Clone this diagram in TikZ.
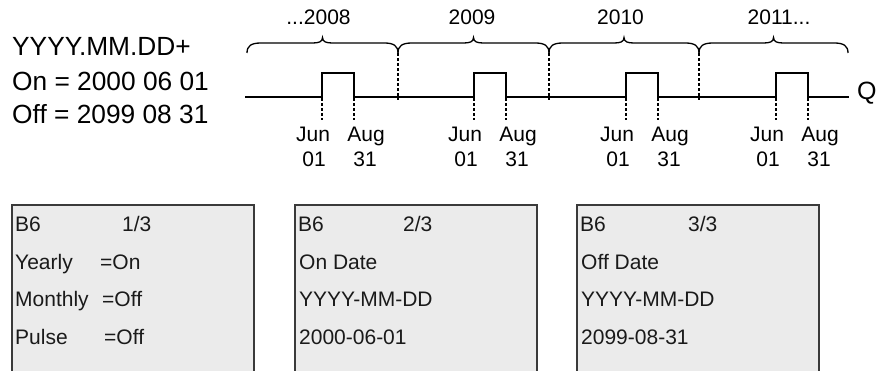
\documentclass[tikz,border=0pt]{standalone}
\usepackage{fontspec}
\setmainfont{Liberation Sans}
\definecolor{boxfill}{HTML}{EBEBEB}
\definecolor{boxline}{HTML}{3A3A3A}
\definecolor{boxtext}{HTML}{1A1A1A}
\begin{document}
\begin{tikzpicture}[x=1pt,y=-1pt,
  sig/.style={line width=2.8pt, line join=miter, line cap=butt},
  guide/.style={line width=1.6pt, dash pattern=on 3pt off 2pt},
  brc/.style={line width=1.3pt},
  lbl/.style={inner sep=0pt, anchor=base, font=\fontsize{21}{21}\selectfont},
  big/.style={inner sep=0pt, anchor=base west, font=\fontsize{26.3}{26}\selectfont},
  bx/.style={inner sep=0pt, anchor=base west, text=boxtext, font=\fontsize{21}{21}\selectfont},
  frame/.style={draw=boxline, line width=1.8pt}
]
\useasboundingbox (0,0) rectangle (882,371);

% left text
\node[big] (fmt) at (12,55.5) {YYYY.MM.DD+};
\node[big] (on)  at (12,90.5) {On = 2000 06 01};
\node[big] (off) at (12,124) {Off = 2099 08 31};

% braces
\foreach \a/\b in {247/398, 398/549, 549/699, 699/848}{
  \pgfmathsetmacro\m{(\a+\b)/2}
  \draw[brc] (\a,53) .. controls (\a,46) and (\a+4,43) .. (\a+14,43)
    -- (\m-10,43) .. controls (\m-4,43) and (\m,42) .. (\m,37.5)
    .. controls (\m,42) and (\m+4,43) .. (\m+10,43)
    -- (\b-14,43) .. controls (\b-4,43) and (\b,46) .. (\b,53);
}

% year labels
\node[lbl] (y8)  at (318.5,25) {...2008};
\node[lbl] (y9)  at (472,25) {2009};
\node[lbl] (y10) at (620.5,25) {2010};
\node[lbl] (y11) at (779,25) {2011...};

% year separators
\foreach \s in {398,549,699}{
  \draw[guide] (\s,53) -- (\s,100);
}

% timeline
\draw[sig] (245,97) -- (322,97) -- (322,73) -- (354,73) -- (354,97)
  -- (474,97) -- (474,73) -- (506,73) -- (506,97)
  -- (626,97) -- (626,73) -- (658,73) -- (658,97)
  -- (776,97) -- (776,73) -- (808,73) -- (808,97) -- (849,97);
\node[inner sep=0pt, anchor=base west, font=\fontsize{25}{25}\selectfont] (q) at (857,99.5) {Q};

% edge guides and date labels
\foreach \r in {322,474,626,776}{
  \pgfmathsetmacro\f{\r+32}
  \draw[guide] (\r,98) -- (\r,120);
  \draw[guide] (\f,98) -- (\f,120);
  \node[lbl] at (\r-9,142) {Jun};
  \node[lbl] at (\r-8,167) {01};
  \node[lbl] at (\f+12,142) {Aug};
  \node[lbl] at (\f+11,167) {31};
}

% display boxes
\foreach \x in {12,295,577}{
  \fill[boxfill] (\x,205) rectangle (\x+242,372);
  \draw[frame] (\x,372) -- (\x,205) -- (\x+242,205) -- (\x+242,372);
  \node[bx] at (\x+3,231) {B6};
}
\node[bx] (p1) at (122,231) {1/3};
\node[bx] (p2) at (403,231) {2/3};
\node[bx] (p3) at (688,231) {3/3};

\node[bx] (yl) at (15,269) {Yearly};
\node[bx] (yv) at (100,269) {=On};
\node[bx] (ml) at (15,306.5) {Monthly};
\node[bx] (mv) at (102,306.5) {=Off};
\node[bx] (pl) at (15,344) {Pulse};
\node[bx] (pv) at (104,344) {=Off};

\node[bx] (od) at (299,269) {On Date};
\node[bx] (of) at (299,306.5) {YYYY-MM-DD};
\node[bx] (ov) at (299,344) {2000-06-01};

\node[bx] (fd) at (581,269) {Off Date};
\node[bx] (ff) at (581,306.5) {YYYY-MM-DD};
\node[bx] (fv) at (581,344) {2099-08-31};
\end{tikzpicture}
\end{document}
